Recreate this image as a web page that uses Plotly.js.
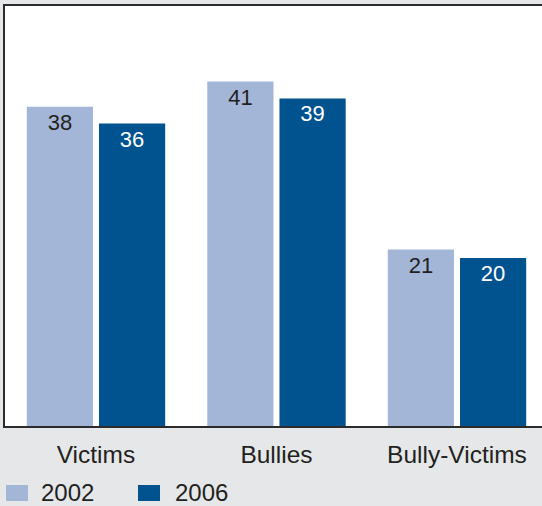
<!DOCTYPE html>
<html>
<head>
<meta charset="utf-8">
<script src="https://cdn.plot.ly/plotly-3.0.1.min.js"></script>
<style>html,body{margin:0;padding:0;background:#e6e7e8;}#chart{width:542px;height:506px;}</style>
</head>
<body>
<div id="chart"></div>
<script>
const categories = ["Victims", "Bullies", "Bully-Victims"];
const seriesNames = ["2002", "2006"];
const values2002 = [38, 41, 21];
const values2006 = [36, 39, 20];

const colors = ["#a4b6d7", "#00538f"];
const textColors = ["#231f20", "#ffffff"];
const FONT = "Liberation Sans, Arial, Helvetica, sans-serif";

const series = [values2002, values2006];
const traces = series.map((vals, i) => ({
  type: "bar",
  name: seriesNames[i],
  x: categories,
  y: vals,
  marker: {color: colors[i], line: {width: 0}},
  text: vals.map(String),
  textposition: "inside",
  insidetextanchor: "end",
  textangle: 0,
  constraintext: "none",
  textfont: {family: FONT, size: 22, color: textColors[i]},
  hoverinfo: "none"
}));

// custom legend (paper coords relative to plot area: x0=5px, width 537; y0=426px, height 420)
const px = v => (v - 5) / 537;
const py = v => (426 - v) / 420;
const legendSquares = [[6, 28], [138, 160]];
const legendTextX = [39, 173];
const shapes = seriesNames.map((n, i) => ({
  type: "rect", xref: "paper", yref: "paper",
  x0: px(legendSquares[i][0]), x1: px(legendSquares[i][1]),
  y0: py(501), y1: py(485),
  fillcolor: colors[i], line: {width: 0}
}));
const annotations = seriesNames.map((n, i) => ({
  text: n, xref: "paper", yref: "paper",
  x: px(legendTextX[i]), y: py(493),
  xanchor: "left", yanchor: "middle", showarrow: false,
  font: {family: FONT, size: 24, color: "#231f20"}
}));

const layout = {
  width: 542, height: 506,
  margin: {l: 5, r: 0, t: 6, b: 80},
  paper_bgcolor: "#e6e7e8",
  plot_bgcolor: "#ffffff",
  showlegend: false,
  barmode: "group",
  bargap: 0.2,
  bargroupgap: 0.083,
  uniformtext: {mode: false},
  font: {family: FONT, color: "#231f20"},
  xaxis: {
    range: [-0.504, 2.471],
    showline: true, linecolor: "#2b2b2b", linewidth: 2, mirror: true,
    ticks: "", showgrid: false, zeroline: false,
    tickfont: {family: FONT, size: 24.5, color: "#231f20"},
    ticklabelstandoff: 6
  },
  yaxis: {
    range: [0, 50],
    showline: true, linecolor: "#2b2b2b", linewidth: 2,
    showticklabels: false, ticks: "", showgrid: false, zeroline: false
  },
  shapes: shapes,
  annotations: annotations
};

Plotly.newPlot("chart", traces, layout, {displayModeBar: false, staticPlot: true});
</script>
</body>
</html>
